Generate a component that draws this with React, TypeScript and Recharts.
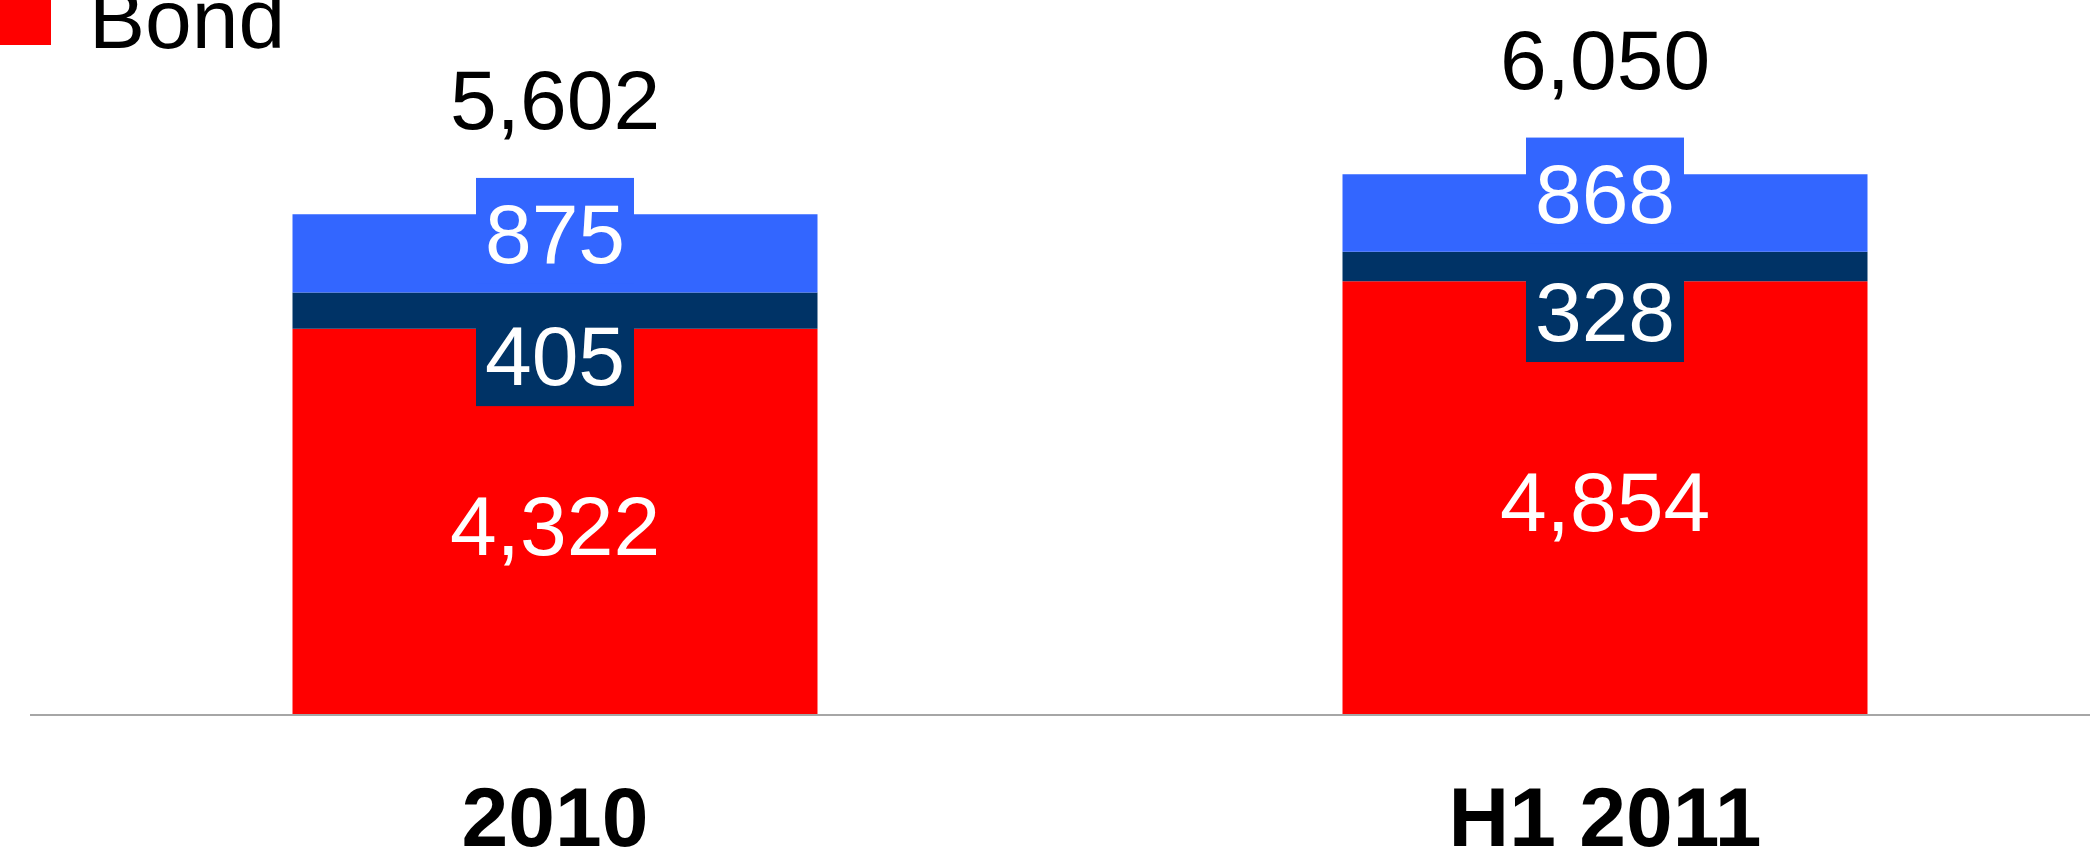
import { BarChart, Bar, XAxis, YAxis, LabelList } from 'recharts';

const categories = ['2010', 'H1 2011'];
const bondValues = [4322, 4854];
const midValues = [405, 328];
const topValues = [875, 868];
const totals = [5602, 6050];

const RED = '#FF0000';
const NAVY = '#003366';
const BLUE = '#3366FF';
const FONT = '"Liberation Sans", Arial, sans-serif';
const FS = 84;

const data = categories.map((cat, i) => ({
    cat,
    bond: bondValues[i],
    mid: midValues[i],
    top: topValues[i],
}));

const fmt = (v: number) => v.toLocaleString('en-US');

// label drawn in a small box (same colour as its segment), shifted from the segment middle
const boxedLabel = (fill: string, shift: number, withTotal: boolean) => (props: any) => {
    const { x, y, width, height, value, index } = props;
    const cx = x + width / 2;
    const cy = y + height / 2 + shift;
    return (
        <g>
            <rect x={cx - 79} y={cy - 55} width={158} height={106} fill={fill} />
            <text x={cx} y={cy + FS * 0.358} textAnchor="middle" fill="#fff" fontSize={FS} fontFamily={FONT}>
                {fmt(value)}
            </text>
            {withTotal && (
                <text x={cx} y={y - 115 + FS * 0.358} textAnchor="middle" fill="#000" fontSize={FS} fontFamily={FONT}>
                    {fmt(totals[index])}
                </text>
            )}
        </g>
    );
};

const plainLabel = (props: any) => {
    const { x, y, width, height, value } = props;
    return (
        <text x={x + width / 2} y={y + height / 2 + 3 + FS * 0.358} textAnchor="middle" fill="#fff" fontSize={FS} fontFamily={FONT}>
            {fmt(value)}
        </text>
    );
};

export default function App() {
    return (
        <div style={{ position: 'absolute', left: 0, top: 0, width: 2090, height: 849, overflow: 'hidden', background: '#fff', fontFamily: FONT }}>
            <BarChart width={2130} height={849} data={data} margin={{ top: 0, right: 0, left: 30, bottom: 0 }} barCategoryGap="25%">
                <XAxis
                    dataKey="cat"
                    height={134}
                    axisLine={{ stroke: '#a6a6a6', strokeWidth: 2 }}
                    tickLine={false}
                    tickMargin={65}
                    tick={{ fontSize: 84, fontWeight: 700, fill: '#000', fontFamily: FONT }}
                />
                <YAxis hide domain={[0, 8000]} />
                <Bar dataKey="bond" name="Bond" stackId="a" fill={RED} isAnimationActive={false}>
                    <LabelList dataKey="bond" content={plainLabel} />
                </Bar>
                <Bar dataKey="mid" stackId="a" fill={NAVY} isAnimationActive={false}>
                    <LabelList dataKey="mid" content={boxedLabel(NAVY, 44.5, false)} />
                </Bar>
                <Bar dataKey="top" stackId="a" fill={BLUE} isAnimationActive={false}>
                    <LabelList dataKey="top" content={boxedLabel(BLUE, -20.5, true)} />
                </Bar>
            </BarChart>
            {/* legend, mostly cut off at the top in the original */}
            <div style={{ position: 'absolute', left: 0, top: -6, width: 51, height: 51, background: RED }} />
            <div style={{ position: 'absolute', left: 89, top: 48.3 - FS * 0.8465, fontSize: FS, lineHeight: 1, color: '#000', whiteSpace: 'nowrap' }}>
                Bond
            </div>
        </div>
    );
}
